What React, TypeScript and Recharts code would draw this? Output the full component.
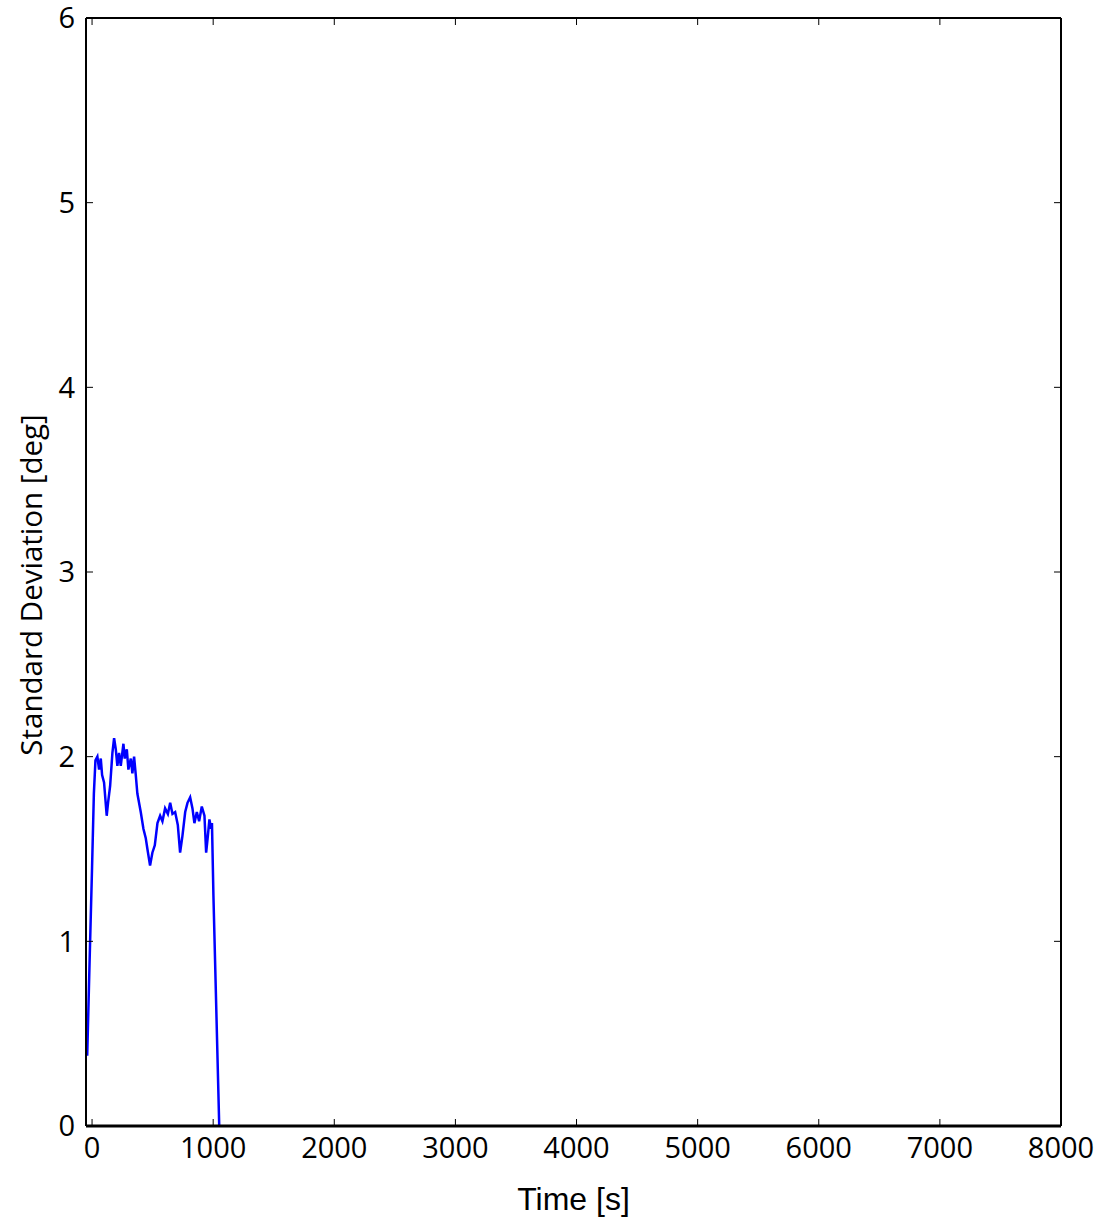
import React from 'react';
import { LineChart, Line, XAxis, YAxis, Label } from 'recharts';

// time [s] and standard deviation [deg]
const times = [
  -40, -20, 0, 15, 28, 44, 58, 72, 83, 99, 121, 132, 149, 168, 182, 196, 209, 223, 237, 259,
  270, 287, 300, 320, 333, 347, 361, 374, 402, 424, 443, 457, 479, 498, 518, 540, 562, 581,
  603, 626, 645, 664, 686, 708, 727, 746, 769, 788, 810, 829, 845, 865, 884, 906, 928, 942,
  956, 969, 983, 990, 1002, 1050,
];
const stdDev = [
  0.38, 0.9, 1.4, 1.8, 1.98, 2.0, 1.93, 1.99, 1.9, 1.86, 1.68, 1.75, 1.84, 2.02, 2.1, 2.04, 1.95, 2.02, 1.95, 2.07,
  1.99, 2.04, 1.93, 1.99, 1.91, 2.0, 1.9, 1.8, 1.7, 1.61, 1.56, 1.5, 1.41, 1.48, 1.52, 1.64, 1.68, 1.65,
  1.72, 1.69, 1.75, 1.69, 1.7, 1.63, 1.48, 1.57, 1.7, 1.75, 1.78, 1.72, 1.64, 1.7, 1.65, 1.73, 1.68, 1.48,
  1.57, 1.66, 1.61, 1.64, 1.25, 0,
];

const xTicks = [0, 1000, 2000, 3000, 4000, 5000, 6000, 7000, 8000];
const yTicks = [0, 1, 2, 3, 4, 5, 6];

const data = times.map((t, i) => ({ t, v: stdDev[i] }));

const tickFont = { fontFamily: '"Open Sans", sans-serif', fontSize: 29, fill: '#000' };
const TICK = 7;

const BottomTick = (props: any) => {
  const { x, y, payload } = props;
  return (
    <g>
      <line x1={x} y1={y} x2={x} y2={y - TICK} stroke="#000" strokeWidth={1} />
      <text x={x} y={y + 32} textAnchor="middle" {...tickFont}>{payload.value}</text>
    </g>
  );
};

const TopTick = (props: any) => {
  const { x, y } = props;
  return <line x1={x} y1={y} x2={x} y2={y + TICK} stroke="#000" strokeWidth={1} />;
};

const LeftTick = (props: any) => {
  const { x, y, payload } = props;
  return (
    <g>
      <line x1={x} y1={y} x2={x + TICK} y2={y} stroke="#000" strokeWidth={1} />
      <text x={x - 11} y={y} dy="0.36em" textAnchor="end" {...tickFont}>{payload.value}</text>
    </g>
  );
};

const RightTick = (props: any) => {
  const { x, y } = props;
  return <line x1={x} y1={y} x2={x - TICK} y2={y} stroke="#000" strokeWidth={1} />;
};

const YTitle = () => (
  <text
    x={30}
    y={585}
    transform="rotate(-90 30 585)"
    textAnchor="middle"
    dominantBaseline="central"
    fontFamily='"Open Sans", sans-serif'
    fontSize={29.5}
    fill="#000"
  >
    Standard Deviation [deg]
  </text>
);

export default function App() {
  return (
    <div style={{ position: 'absolute', left: 0, top: 0, background: '#fff' }}>
      <LineChart width={1102} height={1218} data={data} margin={{ top: 17, right: 40, bottom: 0, left: 0 }}>
        <XAxis
          dataKey="t"
          type="number"
          domain={[-50, 8000]}
          ticks={xTicks}
          interval={0}
          allowDataOverflow
          height={92}
          tickSize={0}
          tickMargin={0}
          tickLine={false}
          axisLine={{ stroke: '#000', strokeWidth: 3 }}
          tick={BottomTick}
        >
          <Label
            value="Time [s]"
            position="insideBottom"
            offset={8}
            style={{ fontFamily: '"Liberation Sans", Arial, sans-serif', fontSize: 32, fill: '#000' }}
          />
        </XAxis>
        <XAxis
          xAxisId="top"
          orientation="top"
          dataKey="t"
          type="number"
          domain={[-50, 8000]}
          ticks={xTicks}
          interval={0}
          allowDataOverflow
          height={1}
          tickSize={0}
          tickMargin={0}
          tickLine={false}
          axisLine={{ stroke: '#000', strokeWidth: 2 }}
          tick={TopTick}
        />
        <YAxis
          type="number"
          domain={[0, 6]}
          ticks={yTicks}
          interval={0}
          allowDataOverflow
          width={86}
          tickSize={0}
          tickMargin={0}
          tickLine={false}
          axisLine={{ stroke: '#000', strokeWidth: 2 }}
          tick={LeftTick}
        >
          <Label content={YTitle} />
        </YAxis>
        <YAxis
          yAxisId="right"
          orientation="right"
          type="number"
          domain={[0, 6]}
          ticks={yTicks}
          interval={0}
          allowDataOverflow
          width={1}
          tickSize={0}
          tickMargin={0}
          tickLine={false}
          axisLine={{ stroke: '#000', strokeWidth: 2 }}
          tick={RightTick}
        />
        <Line
          xAxisId="top"
          yAxisId="right"
          type="linear"
          dataKey="v"
          stroke="none"
          dot={false}
          activeDot={false}
          legendType="none"
          isAnimationActive={false}
        />
        <Line
          type="linear"
          dataKey="v"
          stroke="#0000ff"
          strokeWidth={2.5}
          dot={false}
          activeDot={false}
          isAnimationActive={false}
        />
      </LineChart>
    </div>
  );
}
